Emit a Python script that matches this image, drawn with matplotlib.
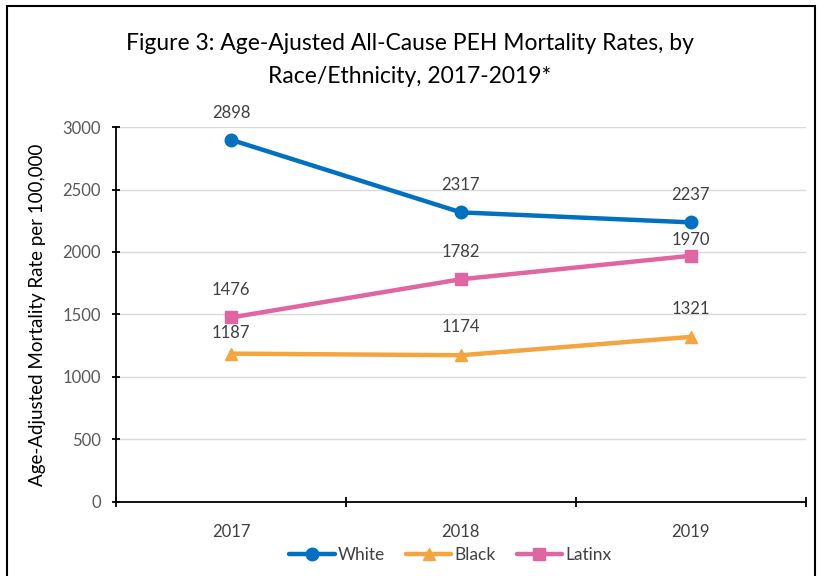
"""
Age-adjusted all-cause PEH mortality rates by race/ethnicity.
"""

import matplotlib
matplotlib.use("Agg")
import matplotlib.pyplot as plt
from matplotlib.patches import Rectangle

YEARS = ["2017", "2018", "2019"]
WHITE = [2898, 2317, 2237]
BLACK = [1187, 1174, 1321]
LATINX = [1476, 1782, 1970]

# label lift above each point, in points (a few labels were nudged by hand)
WHITE_LIFT = [19.5, 19.5, 19.5]
BLACK_LIFT = [14.5, 20, 20]
LATINX_LIFT = [19.5, 19.5, 11.5]

SERIES = [
    ("White", WHITE, WHITE_LIFT, "#0070C0", "o"),
    ("Black", BLACK, BLACK_LIFT, "#F4A540", "^"),
    ("Latinx", LATINX, LATINX_LIFT, "#E065A0", "s"),
]

plt.rcParams["font.family"] = ["Lato", "DejaVu Sans"]

fig = plt.figure(figsize=(8.19, 5.76), dpi=100)
ax = fig.add_axes([0.1416, 0.1285, 0.8424, 0.651])

x = list(range(len(YEARS)))
for name, vals, lifts, color, marker in SERIES:
    ax.plot(x, vals, color=color, lw=3.2, marker=marker, ms=9,
            label=name, solid_capstyle="round", zorder=3)
    for xi, v, lift in zip(x, vals, lifts):
        ax.annotate(str(v), (xi, v), xytext=(0, lift), textcoords="offset points",
                    ha="center", va="center", fontsize=12, color="#404040")

ax.set_xlim(-0.5, 2.5)
ax.set_ylim(0, 3000)
ax.set_yticks(range(0, 3001, 500))
ax.grid(axis="y", color="#D9D9D9", lw=1)
ax.set_axisbelow(True)

ax.set_xticks([-0.5, 0.5, 1.5, 2.5])
ax.set_xticklabels([])
ax.set_xticks(x, minor=True)
ax.set_xticklabels(YEARS, minor=True)
ax.tick_params(axis="x", which="major", length=7, width=1.3, color="black", direction="inout")
ax.tick_params(axis="x", which="minor", length=0, pad=16, labelsize=12, labelcolor="#404040")
ax.tick_params(axis="y", length=6, width=1.3, color="black", direction="inout",
               labelsize=12, labelcolor="#595959", pad=8)

for side in ["top", "right"]:
    ax.spines[side].set_visible(False)
for side in ["left", "bottom"]:
    ax.spines[side].set_color("black")
    ax.spines[side].set_linewidth(1.3)

ax.set_ylabel("Age-Adjusted Mortality Rate per 100,000", fontsize=13.5, labelpad=12)

fig.text(0.5, 0.925, "Figure 3: Age-Ajusted All-Cause PEH Mortality Rates, by",
         ha="center", va="center", fontsize=16.5)
fig.text(0.5, 0.868, "Race/Ethnicity, 2017-2019*",
         ha="center", va="center", fontsize=16.5)

fig.legend(loc="center", bbox_to_anchor=(0.55, 0.037), ncol=3, frameon=False,
           fontsize=12.5, handlelength=2.6, handletextpad=0.2, columnspacing=1.2,
           labelcolor="#404040")

fig.patches.append(Rectangle((0.008, -0.05), 0.987, 1.04, transform=fig.transFigure,
                             fill=False, edgecolor="black", lw=1.5))

fig.savefig("out.png", dpi=100)
